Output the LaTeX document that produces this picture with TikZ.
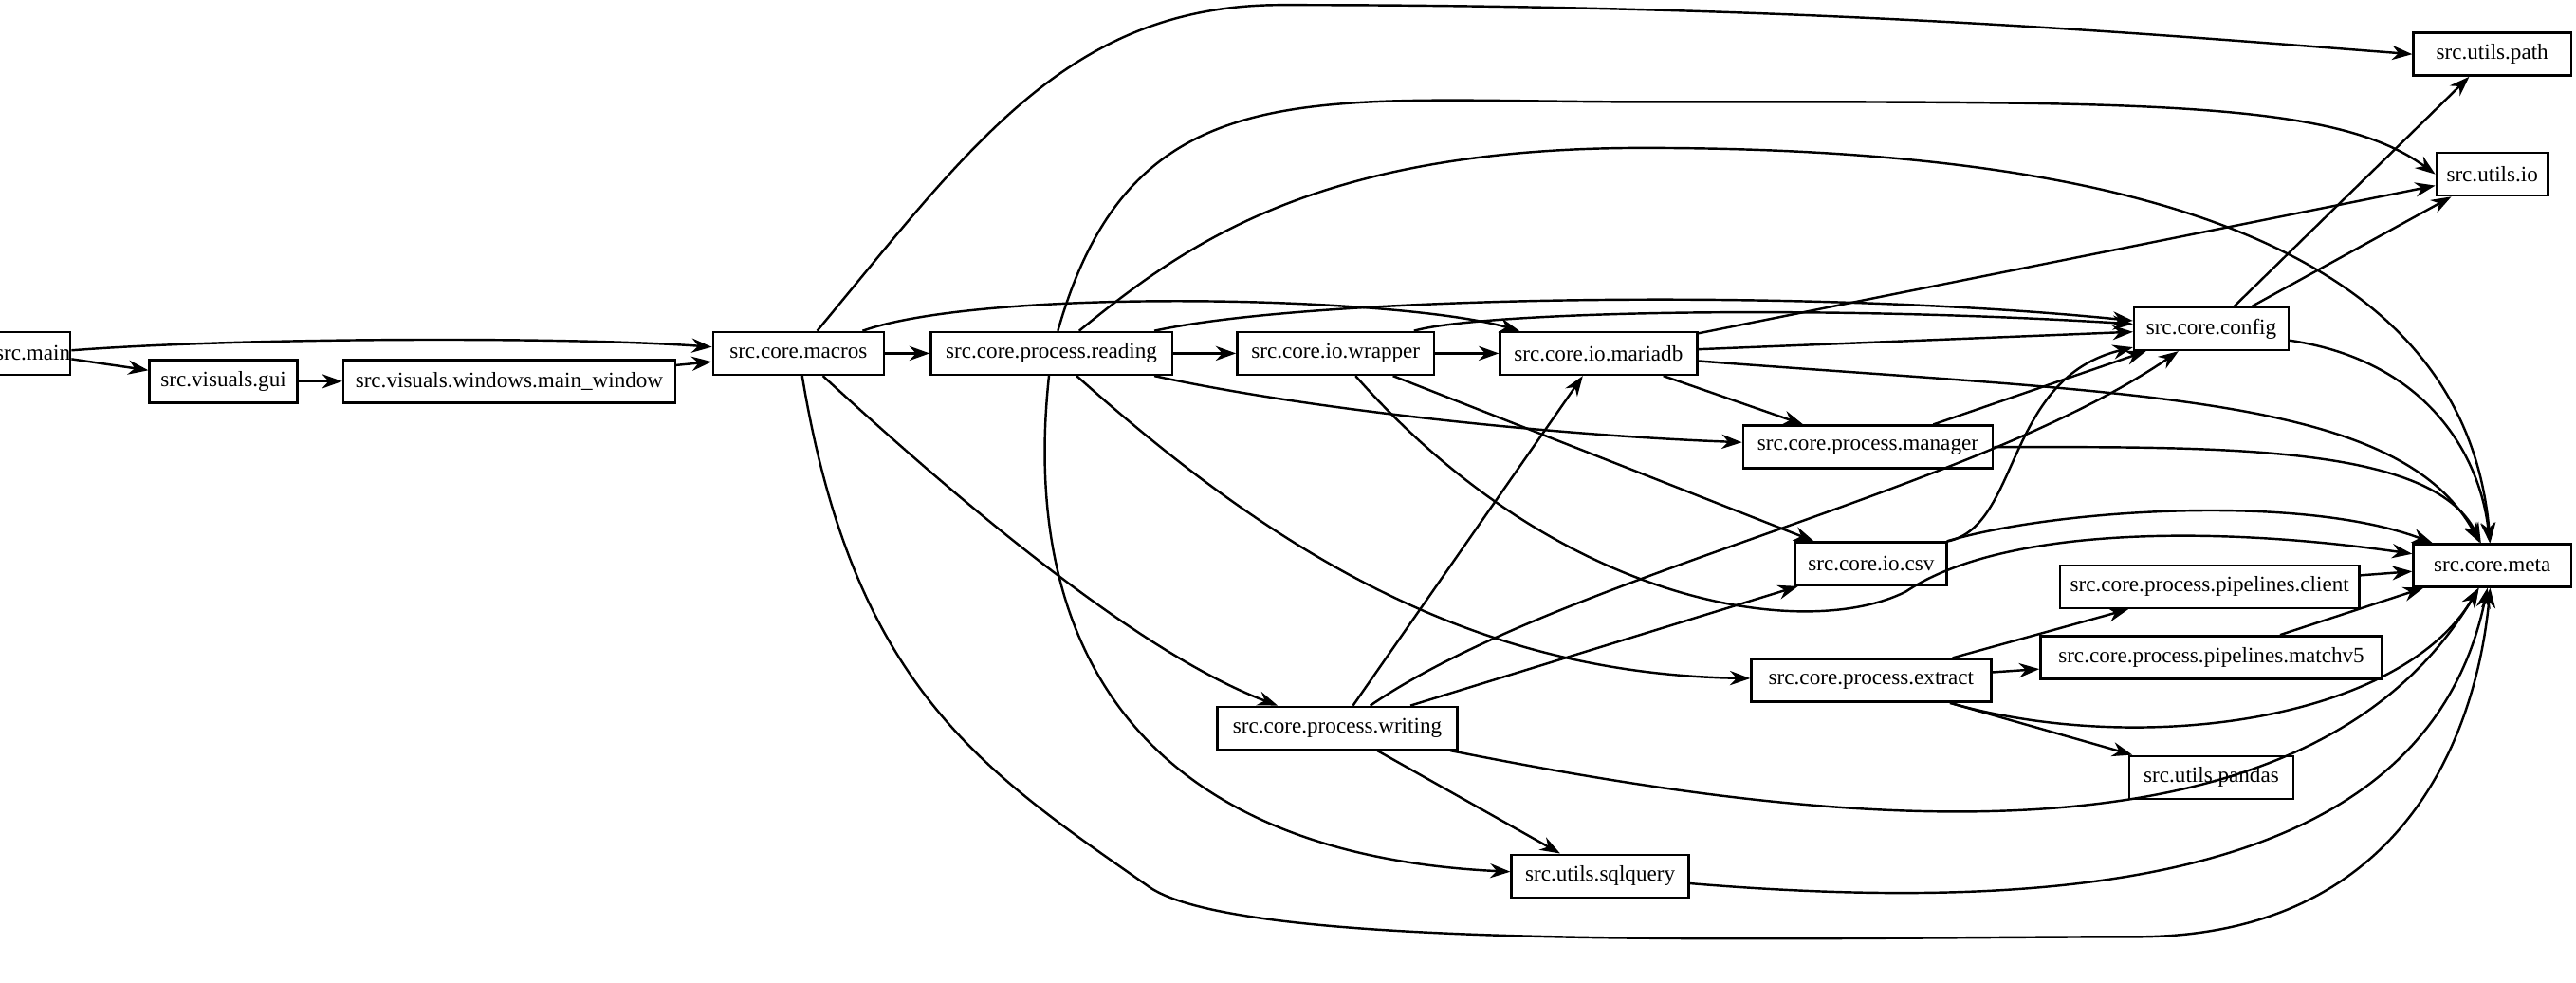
\documentclass[tikz,border=0pt]{standalone}
\usepackage{fontspec}
\setmainfont{Liberation Serif}
\usetikzlibrary{arrows.meta}
\begin{document}
\begin{tikzpicture}[x=0.02cm,y=-0.02cm,
  nb/.style={draw,thick,minimum height=0.52cm,inner sep=0pt,font=\fontsize{7.6}{9}\selectfont},
  ed/.style={thick,-{Stealth[length=7pt,width=5pt]}}]
\useasboundingbox (0,0) rectangle (1568,598);
\node[nb,minimum width=0.68cm] (main) at (20,215) {src.main};
\node[nb,minimum width=1.8cm] (gui) at (136,232) {src.visuals.gui};
\node[nb,minimum width=4.04cm] (mw) at (310,232) {src.visuals.windows.main\_window};
\node[nb,minimum width=2.08cm] (macros) at (486,215) {src.core.macros};
\node[nb,minimum width=2.94cm] (reading) at (640,215) {src.core.process.reading};
\node[nb,minimum width=2.4cm] (wrapper) at (813,215) {src.core.io.wrapper};
\node[nb,minimum width=2.4cm] (mariadb) at (973,215) {src.core.io.mariadb};
\node[nb,minimum width=1.88cm] (config) at (1346,200) {src.core.config};
\node[nb,minimum width=1.92cm] (path) at (1517,33) {src.utils.path};
\node[nb,minimum width=1.36cm] (io) at (1517,106) {src.utils.io};
\node[nb,minimum width=3.04cm] (manager) at (1137,272) {src.core.process.manager};
\node[nb,minimum width=1.92cm] (meta) at (1517,344) {src.core.meta};
\node[nb,minimum width=1.84cm] (csv) at (1139,343) {src.core.io.csv};
\node[nb,minimum width=3.64cm] (client) at (1345,357) {src.core.process.pipelines.client};
\node[nb,minimum width=2.92cm] (extract) at (1139,414) {src.core.process.extract};
\node[nb,minimum width=4.16cm] (matchv5) at (1346,400) {src.core.process.pipelines.matchv5};
\node[nb,minimum width=2.92cm] (writing) at (814,443) {src.core.process.writing};
\node[nb,minimum width=2cm] (pandas) at (1346,473) {src.utils.pandas};
\node[nb,minimum width=2.16cm] (sql) at (974,533) {src.utils.sqlquery};
% edges
\draw[ed] (main) .. controls (150,205) and (350,205) .. (macros);
\draw[ed] (main) -- (gui);
\draw[ed] (gui) -- (mw);
\draw[ed] (mw) -- (macros);
\draw[ed] (macros) -- (reading);
\draw[ed] (macros) .. controls (600,175) and (850,180) .. (mariadb);
\draw[ed] (macros) .. controls (590,90) and (650,3) .. (780,3) .. controls (1100,3) and (1300,20) .. (path.west);
\draw[ed] (macros) .. controls (600,320) and (700,400) .. (writing);
\draw[ed] (macros) .. controls (520,420) and (600,470) .. (700,540) .. controls (760,580) and (1100,570) .. (1300,570) .. controls (1480,570) and (1510,420) .. (meta);
\draw[ed] (reading) -- (wrapper);
\draw[ed] (reading) .. controls (800,180) and (1100,175) .. (config);
\draw[ed] (reading) .. controls (690,40) and (800,62) .. (1000,62) .. controls (1300,62) and (1420,60) .. (io.west);
\draw[ed] (reading) .. controls (720,150) and (800,90) .. (1000,90) .. controls (1300,90) and (1500,150) .. (meta);
\draw[ed] (reading) .. controls (800,250) and (950,265) .. (manager);
\draw[ed] (reading) .. controls (780,340) and (900,410) .. (extract);
\draw[ed] (reading) .. controls (620,400) and (700,520) .. (sql);
\draw[ed] (wrapper) -- (mariadb);
\draw[ed] (wrapper) .. controls (900,190) and (1100,185) .. (config);
\draw[ed] (wrapper) -- (csv);
\draw[ed] (wrapper) .. controls (950,370) and (1100,390) .. (1160,360) .. controls (1220,320) and (1350,320) .. (meta);
\draw[ed] (mariadb) -- (io);
\draw[ed] (mariadb) -- (config);
\draw[ed] (mariadb) -- (manager);
\draw[ed] (mariadb) .. controls (1300,240) and (1460,240) .. (meta);
\draw[ed] (manager) -- (config);
\draw[ed] (manager) .. controls (1350,272) and (1480,270) .. (meta);
\draw[ed] (config) -- (path);
\draw[ed] (config) -- (io);
\draw[ed] (config) .. controls (1480,220) and (1510,280) .. (meta);
\draw[ed] (csv.north east) .. controls (1230,320) and (1220,230) .. (config);
\draw[ed] (csv) .. controls (1250,310) and (1400,300) .. (meta);
\draw[ed] (writing) -- (mariadb);
\draw[ed] (writing) .. controls (950,350) and (1200,300) .. (config);
\draw[ed] (writing) -- (csv);
\draw[ed] (writing) -- (sql);
\draw[ed] (writing) .. controls (1100,500) and (1400,540) .. (meta);
\draw[ed] (extract) -- (client);
\draw[ed] (extract) -- (matchv5);
\draw[ed] (extract) -- (pandas);
\draw[ed] (extract) .. controls (1300,460) and (1460,440) .. (meta);
\draw[ed] (client) -- (meta);
\draw[ed] (matchv5) -- (meta);
\draw[ed] (sql) .. controls (1300,560) and (1480,520) .. (meta);
\end{tikzpicture}
\end{document}
